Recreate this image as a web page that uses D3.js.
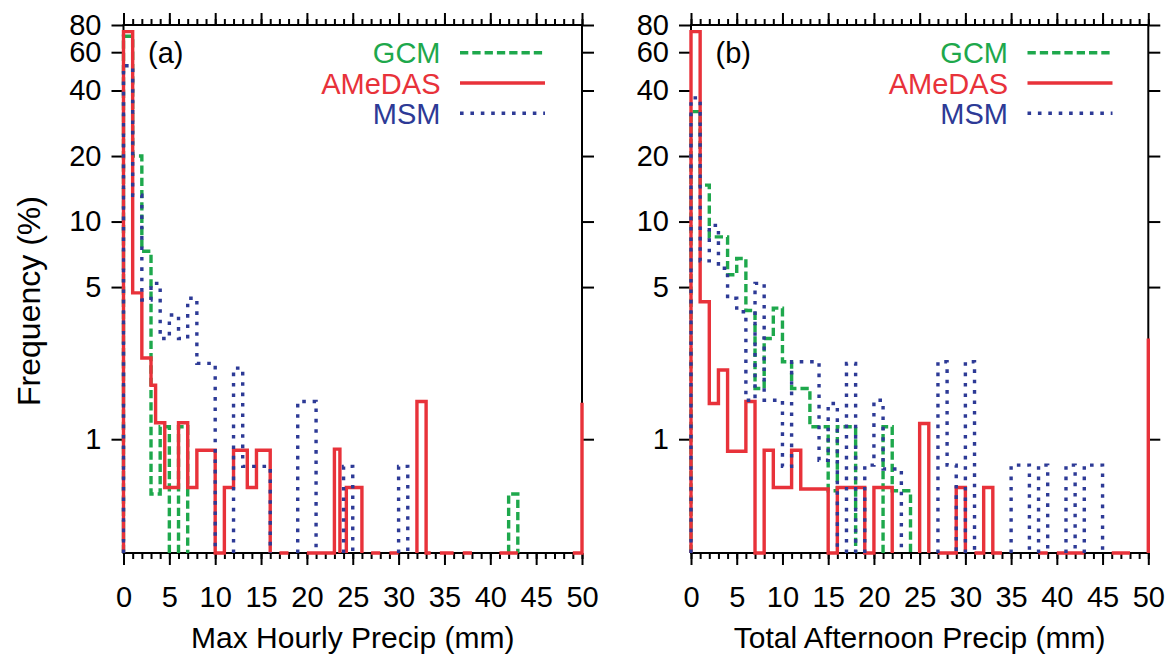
<!DOCTYPE html>
<html>
<head>
<meta charset="utf-8">
<script src="https://cdn.jsdelivr.net/npm/d3@7"></script>
<style>
  body { margin: 0; background: #fff; }
  svg text { font-family: "Liberation Sans", Arial, Helvetica, sans-serif; }
</style>
</head>
<body>
<svg id="chart" width="1174" height="658"></svg>
<script>
// bin edges (mm) and frequency (%) per bin; 0 = empty bin (no line), 0.2 = below axis (drawn on the bottom)
var gcmA_edges = [0, 1, 2, 3, 4, 5, 6, 7, 42, 43, 50];
var gcmA_freq  = [71, 20, 7.3, 0.56, 1.14, 0, 1.14, 0, 0.56, 0];

var amedasA_edges = [0, 1, 2, 3, 3.5, 4.5, 6, 7, 8, 10, 11, 12, 13.5, 14.5, 16, 17, 18, 20, 23, 23.6,
                     24.3, 26, 27, 28, 29, 30, 32, 33, 33.5, 34.5, 36, 37, 38, 41, 43, 49, 50, 51];
var amedasA_freq  = [74.6, 4.7, 2.36, 1.77, 1.19, 0.6, 1.19, 0.6, 0.89, 0.2, 0.6, 0.89, 0.6, 0.89, 0, 0.2, 0, 0.2, 0.9, 0,
                     0.6, 0, 0.2, 0, 0.2, 0, 1.49, 0.2, 0, 0.2, 0, 0.2, 0, 0.2, 0, 0.2, 1.47];

var msmA_edges = [0, 1, 2, 3, 4, 5, 6, 7, 8, 10, 12, 13, 14, 15, 16, 19, 21, 24, 25, 30, 31, 50];
var msmA_freq  = [52, 13.2, 4.36, 5.2, 2.9, 3.72, 2.9, 4.44, 2.23, 0, 2.12, 0.75, 0.75, 0.75, 0, 1.49, 0, 0.75, 0, 0.75, 0];

var gcmB_edges = [0, 1, 2, 4, 5, 6, 7, 8, 9, 10, 11, 13, 15, 16, 18, 21, 22, 24, 50];
var gcmB_freq  = [32, 14.7, 8.5, 5.7, 6.77, 3.9, 1.71, 2.9, 4.0, 2.27, 1.71, 1.14, 0.58, 1.14, 0, 1.14, 0.58, 0];

var amedasB_edges = [0, 1, 2, 3, 4, 6, 7, 8, 9, 11, 12, 15, 16, 19, 20, 22, 25, 26, 27, 29,
                     30, 31, 32, 33, 34, 38, 39, 40, 43, 46, 48, 50, 51];
var amedasB_freq  = [74.6, 4.28, 1.46, 2.08, 0.88, 1.49, 0.2, 0.89, 0.6, 0.89, 0.59, 0.2, 0.6, 0.2, 0.6, 0, 1.18, 0, 0.2, 0.6,
                     0, 0.2, 0.6, 0.2, 0, 0.2, 0, 0.2, 0, 0.2, 0, 2.9];

var msmB_edges = [0, 1, 2, 3, 4, 5, 6, 7, 8, 10, 11, 14, 15, 16, 17, 18, 19, 20, 21, 23,
                  27, 28, 29, 30, 31, 35, 37, 38, 39, 41, 42, 43, 45, 50];
var msmB_freq  = [37, 6.6, 9.6, 6.1, 4.44, 3.85, 1.51, 5.2, 1.51, 0.75, 2.27, 0.8, 1.46, 0, 2.23, 0, 0.76, 1.51, 0.73, 0,
                  2.27, 0.76, 0, 2.27, 0, 0.76, 0, 0.76, 0, 0.76, 0, 0.76, 0];

var xMajor = d3.range(0, 51, 5);
var xMinor = d3.range(0, 51, 1);
var yTicks = [1, 5, 10, 20, 40, 60, 80];

var seriesNames = ['GCM', 'AMeDAS', 'MSM'];
var seriesColor = {'GCM': '#1ea84c', 'AMeDAS': '#e8323a', 'MSM': '#2d3a96'};
var seriesDash  = {'GCM': '8.3,4', 'AMeDAS': null, 'MSM': '3.6,6.8'};

var panels = [
    {tag: '(a)', title: 'Max Hourly Precip (mm)', left: 123.5, right: 582,
     series: {'GCM': [gcmA_edges, gcmA_freq], 'AMeDAS': [amedasA_edges, amedasA_freq], 'MSM': [msmA_edges, msmA_freq]}},
    {tag: '(b)', title: 'Total Afternoon Precip (mm)', left: 691, right: 1148.3,
     series: {'GCM': [gcmB_edges, gcmB_freq], 'AMeDAS': [amedasB_edges, amedasB_freq], 'MSM': [msmB_edges, msmB_freq]}}
];

var plotTop = 25, plotBottom = 553;
var FS = 29;
var svg = d3.select('#chart');

var y = d3.scaleLog().domain([0.3, 80]).range([plotBottom, plotTop]).clamp(true);

// step outline of a histogram, broken where a bin is empty
var stepPath = function (edges, vals, x) {
    if (edges.length !== vals.length + 1) console.warn('bin count mismatch', edges.length, vals.length);
    var yy = function (v) { return v > 0 ? y(v) : plotBottom; };
    var pts = [[x(edges[0]), plotBottom]];
    vals.forEach(function (v, i) {
        pts.push([x(edges[i]), yy(v)]);
        if (v === 0) pts.push(null);
        pts.push([x(edges[i + 1]), yy(v)]);
    });
    pts.push([x(edges[edges.length - 1]), plotBottom]);
    return d3.line().defined(function (d) { return d !== null; })(pts);
};

var styleAxis = function (g) {
    g.select('.domain').remove();
    g.selectAll('line').attr('stroke', '#000').attr('stroke-width', 2);
    g.selectAll('text').attr('fill', '#000').style('font-size', FS + 'px')
        .style('font-family', '"Liberation Sans", Arial, sans-serif');
};

panels.forEach(function (p) {
    var x = d3.scaleLinear().domain([0, 50]).range([p.left, p.right]).clamp(true);
    var g = svg.append('g');

    // x axes: bottom with labels, top ticks only
    g.append('g').attr('transform', 'translate(0,' + plotBottom + ')')
        .call(d3.axisBottom(x).tickValues(xMinor).tickSize(6).tickSizeOuter(0).tickFormat(''))
        .call(styleAxis);
    g.append('g').attr('transform', 'translate(0,' + plotBottom + ')')
        .call(d3.axisBottom(x).tickValues(xMajor).tickSize(12).tickSizeOuter(0).tickPadding(21).tickFormat(d3.format('d')))
        .call(styleAxis);
    g.append('g').attr('transform', 'translate(0,' + plotTop + ')')
        .call(d3.axisTop(x).tickValues(xMinor).tickSize(6).tickSizeOuter(0).tickFormat(''))
        .call(styleAxis);
    g.append('g').attr('transform', 'translate(0,' + plotTop + ')')
        .call(d3.axisTop(x).tickValues(xMajor).tickSize(12).tickSizeOuter(0).tickFormat(''))
        .call(styleAxis);

    // y axes
    g.append('g').attr('transform', 'translate(' + p.left + ',0)')
        .call(d3.axisLeft(y).tickValues(yTicks).tickSize(12).tickSizeOuter(0).tickPadding(10).tickFormat(d3.format('d')))
        .call(styleAxis);
    g.append('g').attr('transform', 'translate(' + p.right + ',0)')
        .call(d3.axisRight(y).tickValues(yTicks).tickSize(12).tickSizeOuter(0).tickFormat(''))
        .call(styleAxis);

    g.append('rect')
        .attr('x', p.left).attr('y', plotTop)
        .attr('width', p.right - p.left).attr('height', plotBottom - plotTop)
        .attr('fill', 'none').attr('stroke', '#000').attr('stroke-width', 2);

    // histograms: GCM under AMeDAS under MSM
    seriesNames.forEach(function (name) {
        var s = p.series[name];
        g.append('path')
            .attr('d', stepPath(s[0], s[1], x))
            .attr('fill', 'none')
            .attr('stroke', seriesColor[name])
            .attr('stroke-width', 3.4)
            .attr('stroke-dasharray', seriesDash[name]);
    });

    // legend
    seriesNames.forEach(function (name, i) {
        var ly = 52.7 + i * 30.3;
        g.append('text')
            .attr('x', p.left + 317).attr('y', ly + 10.5)
            .attr('text-anchor', 'end')
            .attr('fill', seriesColor[name])
            .style('font-size', FS + 'px')
            .text(name);
        g.append('line')
            .attr('x1', p.left + 336.5).attr('x2', p.left + 421.5)
            .attr('y1', ly).attr('y2', ly)
            .attr('stroke', seriesColor[name])
            .attr('stroke-width', 3.6)
            .attr('stroke-dasharray', seriesDash[name]);
    });

    g.append('text')
        .attr('x', p.left + 24.5).attr('y', 63)
        .style('font-size', FS + 'px')
        .text(p.tag);

    g.append('text')
        .attr('x', (p.left + p.right) / 2).attr('y', 648)
        .attr('text-anchor', 'middle')
        .style('font-size', '30px')
        .text(p.title);
});

svg.append('text')
    .attr('transform', 'translate(40,301) rotate(-90)')
    .attr('text-anchor', 'middle')
    .style('font-size', '32px')
    .text('Frequency (%)');
</script>
</body>
</html>
